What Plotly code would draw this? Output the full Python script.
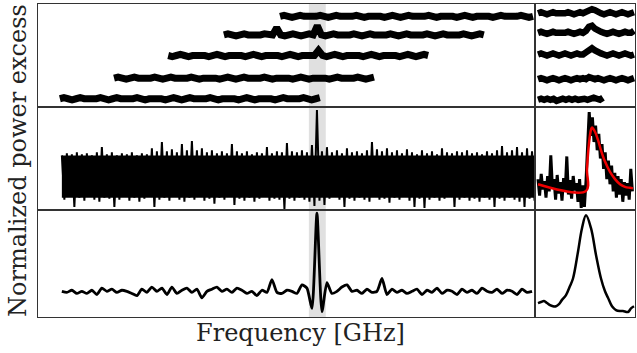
import numpy as np
import plotly.graph_objects as go

# ---------------- data ----------------
# left column: frequency axis 0..100 (arbitrary GHz units), right column: zoom 0..100
BAND = [54.5, 57.9]  # highlighted line region

# top-left: five overlapping sub-band spectra (start, end, values)
TOP_STARTS = [48.7, 37.4, 26.2, 15.3, 4.4]
TOP_ENDS = [99.6, 89.7, 78.5, 67.6, 56.7]
TOP_A = [88, 89, 88, 87, 88, 89, 88, 88, 87, 88, 89, 88, 87, 88, 89, 88, 88, 87, 88, 89,
         88, 87, 88, 88, 89, 88, 87, 88, 89, 88, 87, 88, 89, 88, 88, 87, 88, 89, 88, 87,
         88, 88, 89, 88, 87, 88, 89, 88, 87, 88, 88, 89, 88, 87, 88, 89, 88, 88, 87, 88,
         89, 88, 87, 88]
TOP_B = [70, 71, 70, 69, 70, 71, 70, 70, 69, 70, 71, 70, 70, 77, 70, 69, 70, 71, 70, 69,
         70, 71, 70, 79, 70, 69, 70, 71, 70, 70, 69, 70, 71, 70, 69, 70, 71, 70, 70, 69,
         70, 71, 70, 69, 70, 71, 70, 70, 69, 70, 71, 70, 69, 70, 71, 70, 70, 69, 70, 71,
         70, 69, 70, 71, 70]
TOP_C = [50, 49, 50, 51, 50, 49, 50, 50, 51, 50, 49, 50, 51, 50, 49, 50, 50, 51, 50, 49,
         50, 51, 50, 49, 50, 50, 51, 50, 49, 50, 51, 50, 49, 50, 50, 51, 50, 55, 50, 49,
         50, 51, 50, 49, 50, 50, 51, 50, 49, 50, 51, 50, 49, 50, 50, 51, 50, 49, 50, 51,
         50, 49, 50, 51, 50]
TOP_D = [28, 29, 28, 27, 28, 29, 28, 28, 27, 28, 29, 28, 27, 28, 29, 28, 28, 27, 28, 29,
         28, 27, 28, 28, 29, 28, 27, 28, 29, 28, 27, 28, 29, 28, 28, 27, 28, 29, 28, 27,
         28, 28, 29, 28, 27, 28, 29, 28, 27, 28, 28, 29, 28, 27, 28, 29, 28, 28, 27, 28,
         29, 28, 27, 28, 29]
TOP_E = [8, 9, 8, 7, 8, 9, 8, 8, 7, 8, 9, 8, 7, 8, 9, 8, 8, 7, 8, 9,
         8, 7, 8, 8, 9, 8, 7, 8, 9, 8, 7, 8, 9, 8, 8, 7, 8, 9, 8, 7,
         8, 8, 9, 8, 7, 8, 9, 8, 7, 8, 8, 9, 8, 7, 8, 9, 8, 8, 7, 8,
         9, 8, 7, 8, 9]
TOP_SERIES = [TOP_A, TOP_B, TOP_C, TOP_D, TOP_E]

# top-right: zoom of each sub-band around the line
ZOOM_ENDS = [99, 99, 99, 99, 68]
ZOOM_A = [91, 92, 91, 90, 91, 92, 91, 91, 90, 91, 92, 91, 90, 91, 92, 91, 92, 93, 95, 94,
          92, 91, 90, 91, 92, 91, 90, 91, 92, 91, 90, 91, 92]
ZOOM_B = [72, 73, 72, 71, 72, 73, 72, 72, 71, 72, 73, 72, 71, 72, 73, 72, 74, 78, 79, 76,
          74, 73, 72, 71, 72, 73, 72, 71, 72, 73, 72, 72, 74]
ZOOM_C = [51, 52, 51, 50, 51, 52, 51, 50, 51, 52, 51, 50, 51, 52, 51, 51, 53, 56, 57, 55,
          53, 52, 51, 50, 51, 52, 51, 50, 51, 52, 51, 50, 51]
ZOOM_D = [27, 28, 27, 26, 27, 28, 27, 26, 27, 28, 27, 26, 27, 28, 27, 28, 27, 29, 28, 27,
          28, 27, 26, 27, 28, 27, 26, 27, 28, 27, 26, 27, 28]
ZOOM_E = [7, 8, 7, 8, 7, 8, 6, 7, 8, 7, 8, 7, 8, 7, 8, 8, 7, 8, 9, 8, 7, 9]
ZOOM_SERIES = [ZOOM_A, ZOOM_B, ZOOM_C, ZOOM_D, ZOOM_E]

# middle-left: stacked spectrum, maxima / minima of the noise per bin
MID_CORE = [12, 53]  # solid part of the noise band
MID_UPPER = [53, 55, 54, 56, 54, 55, 53, 56, 61, 54, 56, 53, 55, 54, 56, 53, 55, 54, 60, 57,
             66, 57, 59, 56, 64, 58, 67, 58, 60, 56, 58, 55, 57, 55, 64, 57, 55, 57, 54, 56,
             55, 61, 55, 57, 56, 65, 57, 56, 58, 56, 63, 97, 57, 61, 56, 58, 55, 60, 56, 57,
             55, 58, 66, 59, 57, 60, 56, 58, 55, 59, 56, 54, 58, 55, 57, 54, 60, 56, 55, 57,
             56, 58, 55, 56, 54, 57, 55, 58, 62, 56, 58, 61, 56, 60, 57]
MID_LOWER = [10, 13, 3, 12, 9, 14, 10, 8, 12, 11, 3, 10, 13, 9, 12, 8, 11, 13, 3, 10,
             12, 9, 13, 10, 8, 12, 10, 13, 9, 11, 6, 12, 10, 13, 5, 11, 9, 12, 8, 11,
             13, 9, 11, 10, 1, 11, 9, 12, 10, 8, 4, 9, 5, 11, 13, 10, 3, 11, 9, 12,
             10, 8, 13, 10, 11, 7, 12, 10, 13, 9, 3, 11, 2, 10, 12, 9, 11, 13, 3, 10,
             12, 9, 11, 8, 12, 10, 3, 11, 9, 12, 10, 8, 3, 11, 9]

# bottom-left: smoothed (matched-filter) spectrum
BOT = [24, 23, 25, 22, 24, 22, 25, 21, 27, 24, 26, 23, 25, 24, 22, 20, 26, 23, 28, 24,
       27, 21, 28, 22, 25, 27, 23, 26, 18, 24, 26, 28, 24, 26, 23, 27, 25, 22, 24, 20,
       25, 23, 35, 23, 22, 25, 24, 22, 30, 27, 8, 97, 5, 32, 22, 24, 28, 30, 24, 25,
       22, 26, 23, 24, 36, 21, 26, 23, 25, 22, 24, 26, 21, 25, 23, 27, 22, 25, 24, 21,
       26, 23, 25, 22, 27, 24, 23, 26, 22, 25, 24, 21, 26, 23, 24]

# middle-right: zoomed line data and fitted profile
ZDATA = [30, 14, 35, 20, 28, 12, 33, 18, 53, 22, 30, 10, 34, 16, 27, 9, 31, 18, 52, 15,
         29, 11, 33, 19, 26, 8, 30, 2, 24, 3, 28, 60, 95, 72, 90, 66, 82, 58, 74, 50,
         64, 40, 56, 30, 48, 25, 43, 18, 36, 12, 33, 15, 30, 8, 27, 14, 26, 10, 40, 18]
FIT_X = [3, 51, 52, 54, 56, 57, 60, 63, 66, 70, 75, 80, 85, 90, 95, 98]
FIT_Y = [25, 18.5, 40, 65, 78, 80, 76, 68, 58, 47, 37, 30, 25, 22.5, 21.5, 21]

# bottom-right: zoomed smoothed profile
PROF_X = [3, 6, 9, 12, 15, 18, 21, 24, 27, 31, 35, 38, 43, 47, 51, 56, 61, 66, 70, 73,
          77, 81, 85, 88, 93, 96, 99]
PROF_Y = [13, 14, 15, 13, 11, 10, 10, 12, 16, 20.5, 29, 36, 61, 83, 95, 83, 58, 36, 24, 18,
          10, 6.5, 5.6, 5.6, 4.7, 8, 10]

# ---------------- figure ----------------
W, H = 637, 353
XL = [38 / W, 535 / W]
XR = [535 / W, 635 / W]
ROWS = [[1 - 107 / H, 1 - 4 / H], [1 - 210 / H, 1 - 107 / H], [1 - 317 / H, 1 - 210 / H]]

fig = go.Figure()
BLACK = "#000000"

# top-left
for s, e, vals in zip(TOP_STARTS, TOP_ENDS, TOP_SERIES):
    fig.add_trace(go.Scatter(x=np.linspace(s, e, len(vals)), y=vals, mode="lines",
                             line=dict(color=BLACK, width=7), xaxis="x", yaxis="y"))
# top-right
for e, vals in zip(ZOOM_ENDS, ZOOM_SERIES):
    fig.add_trace(go.Scatter(x=np.linspace(3, e, len(vals)), y=vals, mode="lines",
                             line=dict(color=BLACK, width=6.5), xaxis="x2", yaxis="y2"))

# middle-left: solid core + noise drawn as alternating max / min per bin
freq = np.linspace(4.8, 99.4, len(MID_UPPER))
half = (freq[1] - freq[0]) / 2
fig.add_trace(go.Scatter(x=[freq[0], freq[-1] + half], y=[MID_CORE[0]] * 2, mode="lines",
                         line=dict(color=BLACK, width=0), xaxis="x3", yaxis="y3"))
fig.add_trace(go.Scatter(x=[freq[0], freq[-1] + half], y=[MID_CORE[1]] * 2, mode="lines",
                         line=dict(color=BLACK, width=0), fill="tonexty", fillcolor=BLACK,
                         xaxis="x3", yaxis="y3"))
zz_x, zz_y = [], []
for f, u, lo in zip(freq, MID_UPPER, MID_LOWER):
    zz_x += [f, f + half]
    zz_y += [u, lo]
fig.add_trace(go.Scatter(x=zz_x, y=zz_y, mode="lines", line=dict(color=BLACK, width=2),
                         xaxis="x3", yaxis="y3"))
# middle-right
fig.add_trace(go.Scatter(x=np.linspace(3, 97.4, len(ZDATA)), y=ZDATA, mode="lines",
                         line=dict(color=BLACK, width=3), xaxis="x4", yaxis="y4"))
fig.add_trace(go.Scatter(x=FIT_X, y=FIT_Y, mode="lines", line=dict(color="#ee0000", width=2.5, shape="spline"),
                         xaxis="x4", yaxis="y4"))

# bottom-left
fig.add_trace(go.Scatter(x=freq, y=BOT, mode="lines", line=dict(color=BLACK, width=2.8, shape="spline", smoothing=0.6),
                         xaxis="x5", yaxis="y5"))
# bottom-right
fig.add_trace(go.Scatter(x=PROF_X, y=PROF_Y, mode="lines", line=dict(color=BLACK, width=2.5, shape="spline"),
                         xaxis="x6", yaxis="y6"))

axstyle = dict(showgrid=False, zeroline=False, showticklabels=False, ticks="",
               showline=True, mirror=True, linecolor="#333333", linewidth=1.3, fixedrange=True)
layout = dict(width=W, height=H, margin=dict(l=0, r=0, t=0, b=0),
              paper_bgcolor="white", plot_bgcolor="white", showlegend=False)
for r in range(3):
    for c in range(2):
        k = r * 2 + c + 1
        xn = "xaxis" if k == 1 else f"xaxis{k}"
        yn = "yaxis" if k == 1 else f"yaxis{k}"
        layout[xn] = dict(domain=XL if c == 0 else XR, range=[0, 100],
                          anchor="y" if k == 1 else f"y{k}", **axstyle)
        layout[yn] = dict(domain=ROWS[r], range=[0, 100],
                          anchor="x" if k == 1 else f"x{k}", **axstyle)
fig.update_layout(**layout)

for xr, yr in [("x", "y domain"), ("x3", "y3 domain"), ("x5", "y5 domain")]:
    fig.add_shape(type="rect", xref=xr, yref=yr, x0=BAND[0], x1=BAND[1], y0=0, y1=1,
                  fillcolor="#e0e0e0", line=dict(width=0), layer="below")

font = dict(family="DejaVu Serif", size=24, color="#222222")
fig.add_annotation(text="Normalized power excess", xref="paper", yref="paper",
                   x=18 / W, y=1 - 161 / H, textangle=-90, showarrow=False, font=font,
                   xanchor="center", yanchor="middle")
fig.add_annotation(text="Frequency [GHz]", xref="paper", yref="paper",
                   x=300 / W, y=1 - 333 / H, showarrow=False, font=font,
                   xanchor="center", yanchor="middle")

fig.write_html("out.html", config={"displayModeBar": False},
               post_script="document.body.style.margin='0';")
